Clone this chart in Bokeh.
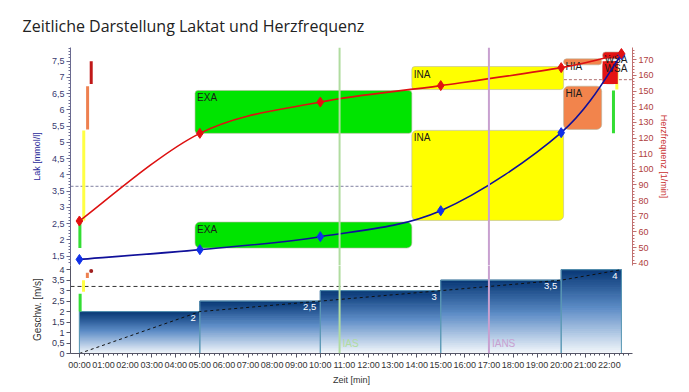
from bokeh.plotting import figure
from bokeh.layouts import column
from bokeh.models import Range1d, LinearAxis, FixedTicker, Span, Label
from bokeh.core.properties import value
from bokeh.embed import file_html
from bokeh.resources import INLINE

# ---------------- data ----------------
time_min = [0, 5, 10, 15, 20, 22.5]
lactate = [1.4, 1.7, 2.1, 2.9, 5.3, 7.7]
heart_rate = [67, 123, 143, 153.5, 165, 174]

stage_start = [0, 5, 10, 15, 20]
stage_end = [5, 10, 15, 20, 22.5]
speed = [2.0, 2.5, 3.0, 3.5, 4.0]
speed_labels = ["2", "2,5", "3", "3,5", "4"]

zone_names = ["EXA", "INA", "HIA", "WSA"]
zone_colors = ["#00e400", "#ffff00", "#f2844c", "#e41414"]
marker_colors = ["#33dd33", "#ffff44", "#ee8050", "#c01818"]
lak_zone_low = [1.75, 2.6, 5.4, 6.8]
lak_zone_high = [2.55, 5.37, 6.73, 7.5]
lak_zone_t0 = [4.8, 13.8, 20.1, 21.72]
lak_zone_t1 = [13.8, 20.1, 21.68, 22.35]
hr_zone_low = [123, 151, 166.8, 170.6]
hr_zone_high = [150.4, 165.7, 170.6, 175]
hr_zone_t0 = [4.8, 13.8, 20.1, 21.72]
hr_zone_t1 = [13.8, 20.1, 21.68, 22.55]
speed_zone_low = [2.0, 2.95, 3.6, 3.9]
speed_zone_high = [2.85, 3.5, 3.85, 3.94]

ias_time = 10.8
ians_time = 17.0
ians_lactate = 3.65
ians_hr = 157.3
ians_speed = 3.2

x_ticks = [0, 1, 2, 3, 4, 5, 6, 7, 8, 9, 10, 11, 12, 13, 14, 15, 16, 17, 18, 19, 20, 21, 22]
x_tick_labels = ["00:00", "01:00", "02:00", "03:00", "04:00", "05:00", "06:00", "07:00",
                 "08:00", "09:00", "10:00", "11:00", "12:00", "13:00", "14:00", "15:00",
                 "16:00", "17:00", "18:00", "19:00", "20:00", "21:00", "22:00"]
lak_ticks = [1.5, 2, 2.5, 3, 3.5, 4, 4.5, 5, 5.5, 6, 6.5, 7, 7.5]
lak_tick_labels = ["1,5", "2", "2,5", "3", "3,5", "4", "4,5", "5", "5,5", "6", "6,5", "7", "7,5"]
hr_ticks = [40, 50, 60, 70, 80, 90, 100, 110, 120, 130, 140, 150, 160, 170]
v_ticks = [0, 0.5, 1, 1.5, 2, 2.5, 3, 3.5, 4]
v_tick_labels = ["0", "0,5", "1", "1,5", "2", "2,5", "3", "3,5", "4"]

# ---------------- styling constants ----------------
FONT = "Liberation Sans"
X_RANGE = (-0.37, 22.96)
left_marker_x = [0.02, 0.18, 0.34, 0.49]
right_marker_x = [22.17, 22.31]
low_marker_x = [0.03, 0.17, 0.33, 0.49]
OVERLAP = 6


def smooth(xs, ys):
    n = len(xs)
    d = dict(x0=[], y0=[], x1=[], y1=[], cx0=[], cy0=[], cx1=[], cy1=[])
    for i in range(n - 1):
        xp, yp = (xs[i - 1], ys[i - 1]) if i > 0 else (xs[i], ys[i])
        xn, yn = (xs[i + 2], ys[i + 2]) if i + 2 < n else (xs[i + 1], ys[i + 1])
        d["x0"].append(xs[i]); d["y0"].append(ys[i])
        d["x1"].append(xs[i + 1]); d["y1"].append(ys[i + 1])
        d["cx0"].append(xs[i] + (xs[i + 1] - xp) / 6.0)
        d["cy0"].append(ys[i] + (ys[i + 1] - yp) / 6.0)
        d["cx1"].append(xs[i + 1] - (xn - xs[i]) / 6.0)
        d["cy1"].append(ys[i + 1] - (yn - ys[i]) / 6.0)
    return d


def minor(lo, hi, step):
    out = []
    v = lo
    while v <= hi + 1e-9:
        out.append(round(v, 4))
        v += step
    return out


def style_axis(ax, label_color, tick_color, line_color, size="9px"):
    ax.axis_label_text_font = FONT
    ax.axis_label_text_font_size = size
    ax.axis_label_text_font_style = "normal"
    ax.axis_label_text_color = label_color
    ax.major_label_text_font = FONT
    ax.major_label_text_font_size = "9px"
    ax.major_label_text_color = tick_color
    ax.axis_line_color = line_color
    ax.major_tick_line_color = line_color
    ax.minor_tick_line_color = line_color
    ax.major_tick_in = 0
    ax.major_tick_out = 4
    ax.minor_tick_in = 0
    ax.minor_tick_out = 2
    ax.major_label_standoff = 2
    ax.axis_label_standoff = 5


# ---------------- upper panel ----------------
p1 = figure(width=689, height=218 + 47 + OVERLAP, x_range=Range1d(*X_RANGE),
            y_range=Range1d(1.213, 7.92),
            output_backend="svg", toolbar_location=None, x_axis_location=None,
            min_border_left=70, min_border_right=57, min_border_top=47,
            min_border_bottom=OVERLAP,
            title="Zeitliche Darstellung Laktat und Herzfrequenz")
p1.extra_y_ranges = {"hr": Range1d(38.56, 177.86)}
p1.grid.visible = False
p1.outline_line_color = None
p1.title.text_font = "Open Sans"
p1.title.text_font_size = "16px"
p1.title.text_font_style = "normal"
p1.title.text_color = "#222222"
p1.title.align = "left"
p1.title.offset = -48
p1.title.standoff = 21

ly = p1.yaxis[0]
ly.axis_label = "Lak [mmol/l]"
ly.ticker = FixedTicker(ticks=lak_ticks, minor_ticks=minor(1.3, 7.9, 0.1))
ly.major_label_overrides = {t: l for t, l in zip(lak_ticks, lak_tick_labels)}
style_axis(ly, "#2a2a9a", "#3a3a70", "#6a6a90")
ly.axis_label_standoff = 7

ry = LinearAxis(y_range_name="hr", axis_label="Herzfrequenz [1/min]")
ry.ticker = FixedTicker(ticks=hr_ticks, minor_ticks=minor(40, 176, 2))
style_axis(ry, "#c83030", "#b04040", "#c07070")
ry.axis_label_standoff = 2
p1.add_layout(ry, "right")

# dashed threshold lines (behind boxes)
p1.line([X_RANGE[0], ians_time], [ians_lactate, ians_lactate], line_color="#8080a0",
        line_dash="3 2", line_width=1)
p1.line([ians_time, X_RANGE[1]], [ians_hr, ians_hr], line_color="#b07070",
        line_dash="3 2", line_width=1, y_range_name="hr")

# zone boxes
p1.quad(left=lak_zone_t0, right=lak_zone_t1, bottom=lak_zone_low, top=lak_zone_high,
        fill_color=zone_colors, line_color="#b8b8a0", line_alpha=0.6, border_radius=5)
p1.quad(left=hr_zone_t0, right=hr_zone_t1, bottom=hr_zone_low, top=hr_zone_high,
        fill_color=zone_colors, line_color="#b8b8a0", line_alpha=0.6, border_radius=3,
        y_range_name="hr")

# zone markers near axes
p1.segment(x0=left_marker_x, x1=left_marker_x, y0=lak_zone_low, y1=lak_zone_high,
           line_color=marker_colors, line_width=3)
p1.segment(x0=right_marker_x, x1=right_marker_x, y0=hr_zone_low[:2], y1=hr_zone_high[:2],
           line_color=marker_colors[:2], line_width=3, y_range_name="hr")

# red WSA lactate box on top of marker
p1.quad(left=lak_zone_t0[3:], right=lak_zone_t1[3:], bottom=lak_zone_low[3:], top=lak_zone_high[3:],
        fill_color=zone_colors[3], line_color=None)

# zone labels
p1.text(x=lak_zone_t0, y=lak_zone_high, text=zone_names, text_font=value(FONT),
        text_font_size=value("10px"), text_color="#1a1a1a", text_align="left",
        text_baseline="top", x_offset=2, y_offset=2)
p1.text(x=hr_zone_t0, y=hr_zone_high, text=zone_names, text_font=value(FONT),
        text_font_size=value("10px"), text_color="#1a1a1a", text_align="left",
        text_baseline="top", x_offset=2, y_offset=2, y_range_name="hr")

# threshold spans
for loc, col in ((ias_time, "#b0dca0"), (ians_time, "#c8a0d0")):
    p1.add_layout(Span(location=loc, dimension="height", line_color=col, line_width=2))

# curves
p1.bezier(**smooth(time_min, heart_rate), line_color="#dd1111", line_width=1.6, y_range_name="hr")
p1.bezier(**smooth(time_min, lactate), line_color="#10109a", line_width=1.6)
p1.scatter(time_min, lactate, marker="diamond", size=10, fill_color="#1030e8", line_color="#1030e8")
p1.scatter(time_min, heart_rate, marker="diamond", size=10, fill_color="#e21010", line_color="#e21010",
           y_range_name="hr")

# ---------------- lower panel ----------------
p2 = figure(width=689, height=OVERLAP + 91 + 31, x_range=p1.x_range, y_range=Range1d(0, 4.2),
            output_backend="svg", toolbar_location=None,
            min_border_left=70, min_border_right=57, min_border_top=OVERLAP, min_border_bottom=0)
p2.grid.visible = False
p2.outline_line_color = None
p2.background_fill_alpha = 0
p2.border_fill_alpha = 0
p2.margin = (-2 * OVERLAP, 0, 0, 0)

lx = p2.xaxis[0]
lx.axis_label = "Zeit [min]"
lx.ticker = FixedTicker(ticks=x_ticks, minor_ticks=minor(0, 22.8, 0.2))
lx.major_label_overrides = {t: l for t, l in zip(x_ticks, x_tick_labels)}
style_axis(lx, "#333333", "#333333", "#555566")
lx.axis_label_standoff = 2

vy = p2.yaxis[0]
vy.axis_label = "Geschw. [m/s]"
vy.ticker = FixedTicker(ticks=v_ticks, minor_ticks=[])
vy.major_label_overrides = {t: l for t, l in zip(v_ticks, v_tick_labels)}
style_axis(vy, "#333333", "#333355", "#555566", size="10px")
vy.axis_label_standoff = 6

p2.line([X_RANGE[0], ians_time], [ians_speed, ians_speed], line_color="#333333",
        line_dash="4 3", line_width=1)

# gradient-filled stage blocks
N = 40
top_rgb = (8, 56, 118)
mid_rgb = (92, 140, 198)
bot_rgb = (246, 249, 252)
gl, gr, gb, gt, gc = [], [], [], [], []
for s0, s1, v in zip(stage_start, stage_end, speed):
    for k in range(N):
        f = (k + 0.5) / N
        if f > 0.55:
            a, b, g = mid_rgb, top_rgb, (f - 0.55) / 0.45
        else:
            a, b, g = bot_rgb, mid_rgb, f / 0.55
        c = tuple(int(round(a[j] + (b[j] - a[j]) * g)) for j in range(3))
        gl.append(s0); gr.append(s1)
        gb.append(v * k / N); gt.append(v * (k + 1) / N)
        gc.append("#%02x%02x%02x" % c)
p2.quad(left=gl, right=gr, bottom=gb, top=gt, fill_color=gc, line_color=gc, line_width=1)
p2.quad(left=stage_start, right=stage_end, bottom=0, top=speed, fill_color=None,
        line_color="#5a98b4", line_width=1)

p2.line([0] + stage_end, [0] + speed, line_color="#111111", line_dash="3 3", line_width=1)

p2.text(x=stage_end, y=speed, text=speed_labels, text_font=value(FONT),
        text_font_size=value("9.5px"), text_color="white", text_align="right",
        text_baseline="top", x_offset=-4, y_offset=3)

p2.segment(x0=low_marker_x[:3], x1=low_marker_x[:3], y0=speed_zone_low[:3], y1=speed_zone_high[:3],
           line_color=marker_colors[:3], line_width=3)
p2.scatter(low_marker_x[3:], speed_zone_high[3:], size=4, fill_color="#a02020", line_color=None)

for loc, col, name in ((ias_time, "#b0dca0", "IAS"), (ians_time, "#c8a0d0", "IANS")):
    p2.add_layout(Span(location=loc, dimension="height", line_color=col, line_width=2))
    p2.add_layout(Label(x=loc, y=0.2, text=name, x_offset=3, text_font=FONT,
                        text_font_size="10px", text_color=col, text_baseline="bottom"))

layout = column(p1, p2, spacing=0)
open("out.html", "w").write(file_html(layout, INLINE))
